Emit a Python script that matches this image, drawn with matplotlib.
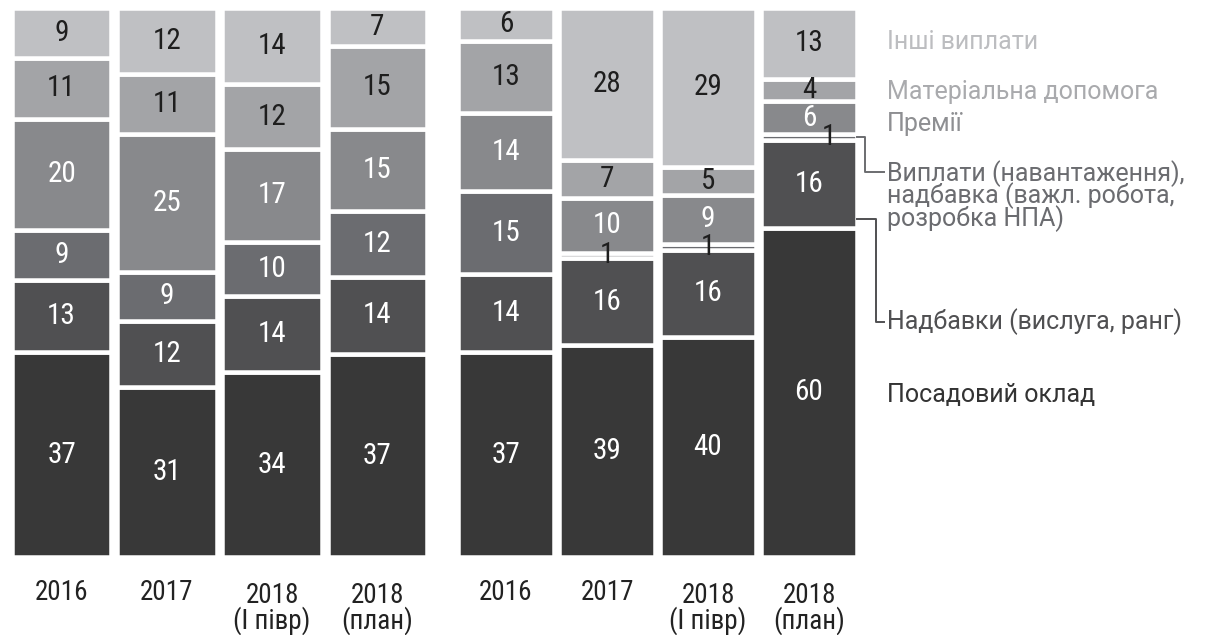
import matplotlib
matplotlib.use("Agg")
import matplotlib.pyplot as plt
from matplotlib import font_manager
from matplotlib.lines import Line2D
import numpy as np

# categories, bottom -> top
categories = [
    "Посадовий оклад",
    "Надбавки (вислуга, ранг)",
    "Виплати (навантаження),\nнадбавка (важл. робота,\nрозробка НПА)",
    "Премії",
    "Матеріальна допомога",
    "Інші виплати",
]
periods = ["2016", "2017", "2018\n(І півр)", "2018\n(план)"]

# left panel, one list per category (bottom -> top), values per period
left_oklad = [37, 31, 34, 37]
left_nadb = [13, 12, 14, 14]
left_vypl = [9, 9, 10, 12]
left_premii = [20, 25, 17, 15]
left_matdop = [11, 11, 12, 15]
left_inshi = [9, 12, 14, 7]

# right panel
right_oklad = [37, 39, 40, 60]
right_nadb = [14, 16, 16, 16]
right_vypl = [15, 1, 1, 1]
right_premii = [14, 10, 9, 6]
right_matdop = [13, 7, 5, 4]
right_inshi = [6, 28, 29, 13]

colors = ["#383838", "#505052", "#6b6c70", "#88898c", "#a3a4a7", "#bfc0c3"]
legend_colors = ["#333333", "#505052", "#6b6c70", "#8e8f92", "#a9aaad", "#bcbdc0"]

W, H = 1205, 635
DPI = 100


def pick_font(cands):
    names = {f.name for f in font_manager.fontManager.ttflist}
    for c in cands:
        if c in names:
            return c
    return "DejaVu Sans"


NUM_FONT = pick_font(["Liberation Sans Narrow", "Roboto Condensed", "Roboto", "DejaVu Sans"])
TXT_FONT = pick_font(["Roboto", "Noto Sans", "DejaVu Sans"])
plt.rcParams["font.family"] = [NUM_FONT, "DejaVu Sans"]


def px_box(x0, y0, x1, y1):
    return [x0 / W, 1 - y1 / H, (x1 - x0) / W, (y1 - y0) / H]


fig = plt.figure(figsize=(W / DPI, H / DPI), dpi=DPI)

LW_PX = 4.5
lw_pt = LW_PX * 72 / DPI


def draw_panel(box, spacing_px, barw_px, series):
    x0, y0, x1, y1 = box
    ax = fig.add_axes(px_box(x0 - LW_PX / 2, y0 - LW_PX / 2, x1 + LW_PX / 2, y1 + LW_PX / 2))
    w = (barw_px + LW_PX) / spacing_px
    data = np.array(series, dtype=float)
    data = data / data.sum(axis=0) * 100
    x = np.arange(data.shape[1])
    bottom = np.zeros(data.shape[1])
    centers = []
    for i, row in enumerate(data):
        ax.bar(x, row, bottom=bottom, width=w, color=colors[i],
               edgecolor="white", linewidth=lw_pt)
        centers.append(bottom + row / 2)
        bottom = bottom + row
    ax.set_xlim(-w / 2, x[-1] + w / 2)
    ax.set_ylim(0, 100)
    ax.axis("off")
    raw = np.array(series)
    for i in range(raw.shape[0]):
        for j in range(raw.shape[1]):
            v = raw[i, j]
            dark = i >= 4 or v <= 2
            dx = 0.0
            if v <= 2 and j == raw.shape[1] - 1:
                dx = 0.2
            ax.text(x[j] + dx, centers[i][j], str(v), ha="center", va="center",
                    fontsize=21, color="#1e1e1e" if dark else "white")
    for j, p in enumerate(periods):
        off = -18 if "\n" in p else -15.5
        ax.annotate(p, xy=(x[j], 0), xycoords="data", xytext=(0, off),
                    textcoords="offset points", ha="center", va="top",
                    fontsize=19.5, color="#222222", linespacing=0.88,
                    annotation_clip=False)
    return ax, x, w, data


left_series = [left_oklad, left_nadb, left_vypl, left_premii, left_matdop, left_inshi]
right_series = [right_oklad, right_nadb, right_vypl, right_premii, right_matdop, right_inshi]

draw_panel((14, 10, 425, 555), 105, 95, left_series)
ax_r, xr, wr, dr = draw_panel((460, 10, 855, 555), 101, 92, right_series)

# legend text on the right
LX = 887
legend_y = [395, 322, 196, 124, 92, 42]
for i, name in enumerate(categories):
    fig.text(LX / W, 1 - legend_y[i] / H, name, ha="left", va="center",
             fontsize=18, color=legend_colors[i], linespacing=0.8,
             family=[TXT_FONT, "DejaVu Sans"])

# connectors from the last bar to the legend labels
fig.canvas.draw()
last = len(xr) - 1
edge_x = xr[last] + wr / 2


def to_px(xd, yd):
    px, py = ax_r.transData.transform((xd, yd))
    return px, H - py


sx, sy = to_px(edge_x, dr[:2, last].sum() + dr[2, last] / 2)
pts = [(sx, sy), (865, sy), (865, 172), (884, 172)]
fig.add_artist(Line2D([p[0] / W for p in pts], [1 - p[1] / H for p in pts],
                      color="#6b6c70", linewidth=1.4))

sx, sy = to_px(edge_x, dr[0, last] + 1.5)
pts = [(sx, sy), (876, sy), (876, 322), (884, 322)]
fig.add_artist(Line2D([p[0] / W for p in pts], [1 - p[1] / H for p in pts],
                      color="#505052", linewidth=1.4))

fig.savefig("out.png", dpi=DPI)
